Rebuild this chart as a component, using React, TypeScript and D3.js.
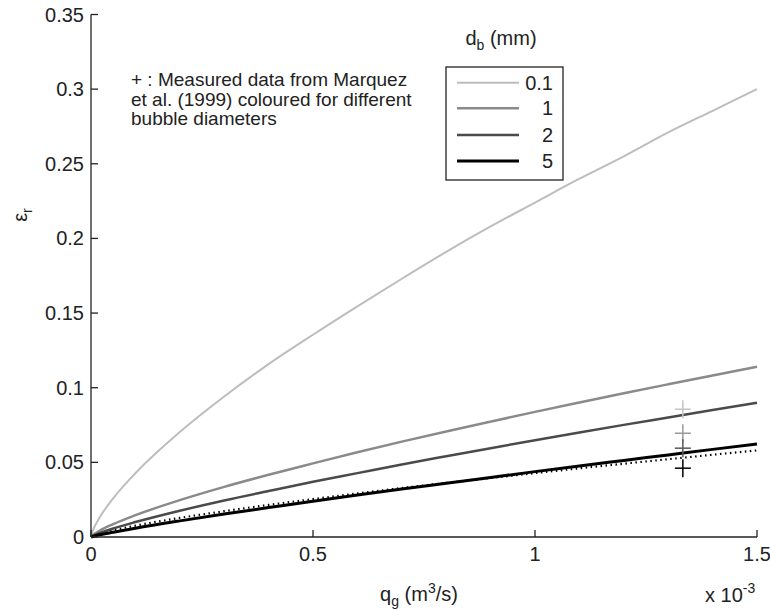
import React from "react";
import * as d3 from "d3";

// gas flow rate q_g (x 10^-3 m^3/s)
const qValues = [0, 0.005, 0.01, 0.02, 0.05, 0.1, 0.2, 0.3, 0.4, 0.5, 0.6, 0.7, 0.8, 0.9, 1.0, 1.1, 1.2, 1.3, 1.4, 1.5];

// gas holdup for each bubble diameter
const eps01 = [0, 0.0049, 0.0081, 0.0134, 0.0259, 0.0427, 0.0703, 0.0941, 0.1158, 0.1355, 0.1545, 0.173, 0.191, 0.208, 0.224, 0.240, 0.255, 0.271, 0.2855, 0.300];
const eps1 = [0, 0.0015, 0.0025, 0.0043, 0.0086, 0.0146, 0.0247, 0.0336, 0.0417, 0.0493, 0.0568, 0.0639, 0.0707, 0.0773, 0.0838, 0.0901, 0.0963, 0.1023, 0.1082, 0.114];
const eps2 = [0, 0.0009, 0.0016, 0.0027, 0.0057, 0.0100, 0.0176, 0.0245, 0.0308, 0.0370, 0.0428, 0.0486, 0.0541, 0.0595, 0.0648, 0.0700, 0.0751, 0.0801, 0.0851, 0.0900];
const eps5 = [0, 0.0004, 0.0008, 0.0015, 0.0032, 0.0059, 0.0108, 0.0154, 0.0197, 0.0240, 0.0281, 0.0321, 0.0360, 0.0399, 0.0438, 0.0476, 0.0513, 0.0550, 0.0587, 0.0623];
const epsDotted = [0, 0.0008, 0.0014, 0.0023, 0.0045, 0.0076, 0.0128, 0.0173, 0.0215, 0.0254, 0.0292, 0.0328, 0.0362, 0.0395, 0.0428, 0.0460, 0.0491, 0.0521, 0.0551, 0.0580];

const seriesLabels = ["0.1", "1", "2", "5"];
const seriesColors = ["#bdbdbd", "#8a8a8a", "#4a4a4a", "#000000"];
const seriesWidths = [2, 2.5, 2.5, 3];

// measured data (Marquez et al. 1999)
const measQ = [1.333, 1.333, 1.333, 1.333];
const measEps = [0.0856, 0.0695, 0.0595, 0.0461];
const measColors = ["#c4c4c4", "#9a9a9a", "#5a5a5a", "#000000"];

const annotationLines = [
  "+ : Measured data from Marquez",
  "et al. (1999) coloured for different",
  "bubble diameters",
];

const xTicks = [0, 0.5, 1, 1.5];
const yTicks = [0, 0.05, 0.1, 0.15, 0.2, 0.25, 0.3, 0.35];

const W = 770, H = 611;
const L = 91, R = 757, T = 14.5, B = 537;
const FONT = "'Liberation Sans', Arial, sans-serif";
const FS = 20;
const FA = 19;

export default function App() {
  const x = d3.scaleLinear().domain([0, 1.5]).range([L, R]);
  const y = d3.scaleLinear().domain([0, 0.35]).range([B, T]);
  const line = d3.line<[number, number]>().x(d => x(d[0])).y(d => y(d[1])).curve(d3.curveMonotoneX);
  const allSeries = [eps01, eps1, eps2, eps5];
  const toPts = (arr: number[]) => qValues.map((q, i) => [q, arr[i]] as [number, number]);
  const fmt = (v: number) => (v === 0 ? "0" : String(+v.toFixed(2)));

  const legX = 446, legY = 67, legW = 117, legH = 113;
  const legRowY = [82.7, 108.3, 135, 161];

  return (
    <svg width={W} height={H} style={{ position: "absolute", left: 0, top: 0, background: "#fff" }} fontFamily={FONT}>
      <rect x={0} y={0} width={W} height={H} fill="#fff" />
      {/* curves */}
      <path d={line(toPts(epsDotted)) || ""} fill="none" stroke="#000" strokeWidth={2.2} strokeDasharray="1.5 3.5" />
      {allSeries.map((s, i) => (
        <path key={i} d={line(toPts(s)) || ""} fill="none" stroke={seriesColors[i]} strokeWidth={seriesWidths[i]} />
      ))}
      {/* measured plus markers */}
      {measQ.map((q, i) => (
        <g key={i} stroke={measColors[i]} strokeWidth={1.5}>
          <line x1={x(q) - 8} x2={x(q) + 8} y1={y(measEps[i])} y2={y(measEps[i])} />
          <line x1={x(q)} x2={x(q)} y1={y(measEps[i]) - 9} y2={y(measEps[i]) + 9} />
        </g>
      ))}
      {/* axes */}
      <line x1={L} x2={L} y1={T} y2={B} stroke="#222" strokeWidth={1.3} />
      <line x1={L} x2={R} y1={B} y2={B} stroke="#222" strokeWidth={1.3} />
      {yTicks.map(t => (
        <g key={t}>
          <line x1={L} x2={L + 7} y1={y(t)} y2={y(t)} stroke="#222" strokeWidth={1.3} />
          <text x={L - 7} y={y(t) + 7} textAnchor="end" fontSize={FS} fill="#222">{fmt(t)}</text>
        </g>
      ))}
      {xTicks.map(t => (
        <g key={t}>
          <line x1={x(t)} x2={x(t)} y1={B} y2={B - 7} stroke="#222" strokeWidth={1.3} />
          <text x={x(t)} y={B + 24} textAnchor="middle" fontSize={FS} fill="#222">{fmt(t)}</text>
        </g>
      ))}
      {/* axis labels */}
      <text x={419} y={601} textAnchor="middle" fontSize={FS} fill="#222">
        q<tspan dy={5} fontSize={14}>g</tspan><tspan dy={-5}> (m</tspan><tspan dy={-8} fontSize={14}>3</tspan><tspan dy={8}>/s)</tspan>
      </text>
      <text x={705} y={602} fontSize={FS} fill="#222">
        x 10<tspan dy={-9} fontSize={14}>-3</tspan>
      </text>
      <text transform={`translate(27,215) rotate(-90)`} textAnchor="middle" fontSize={FS} fill="#222">
        ε<tspan dy={5} fontSize={14}>r</tspan>
      </text>
      {/* annotation */}
      {annotationLines.map((s, i) => (
        <text key={i} x={131} y={86 + i * 19.5} fontSize={FA} fill="#222">{s}</text>
      ))}
      {/* legend */}
      <text x={501} y={45} textAnchor="middle" fontSize={FS} fill="#222">
        d<tspan dy={5} fontSize={14}>b</tspan><tspan dy={-5}> (mm)</tspan>
      </text>
      <rect x={legX} y={legY} width={legW} height={legH} fill="#fff" stroke="#222" strokeWidth={1.3} />
      {seriesLabels.map((lab, i) => (
        <g key={lab}>
          <line x1={457} x2={519} y1={legRowY[i]} y2={legRowY[i]} stroke={seriesColors[i]} strokeWidth={seriesWidths[i]} />
          <text x={553} y={legRowY[i] + 7} textAnchor="end" fontSize={FS} fill="#222">{lab}</text>
        </g>
      ))}
    </svg>
  );
}
